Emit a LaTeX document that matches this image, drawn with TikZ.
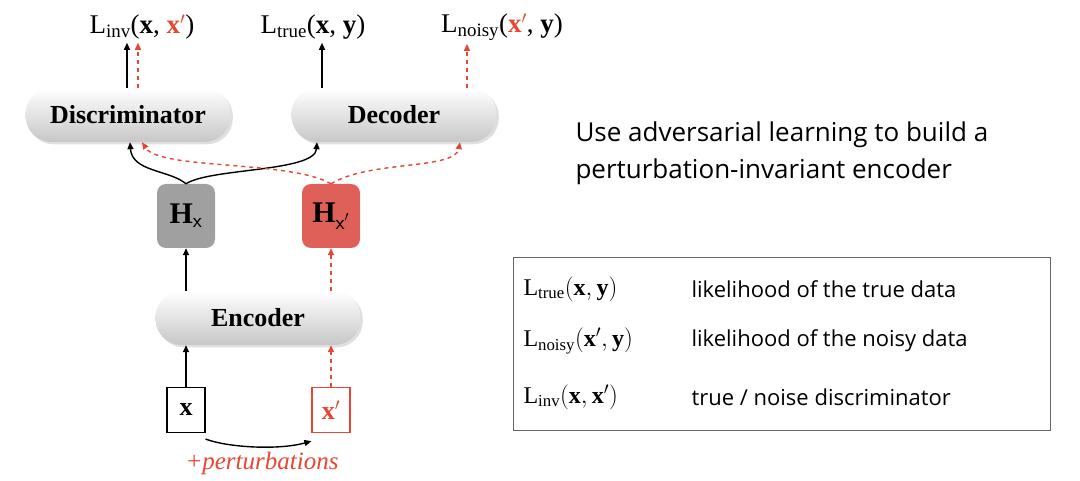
\documentclass[tikz,border=0pt]{standalone}
\usepackage{fontspec}
\setmainfont{Liberation Serif}
\newfontfamily\descfont{Open Sans}
\usetikzlibrary{arrows.meta,shadows}
\definecolor{noisered}{RGB}{230,70,50}
\definecolor{hxgray}{RGB}{160,160,160}
\definecolor{hxred}{RGB}{222,96,88}
\tikzset{
  pill/.style={rounded corners=26pt, minimum width=205pt, minimum height=54pt,
    top color=white, bottom color=black!22, drop shadow={opacity=.25},
    font=\fontsize{26}{26}\selectfont\bfseries},
  hbox/.style={rounded corners=9pt, minimum width=58pt, minimum height=64pt,
    font=\fontsize{30}{30}\selectfont\bfseries},
  inbox/.style={draw, line width=1.2pt, minimum width=38pt, minimum height=45pt,
    font=\fontsize{26}{26}\selectfont\bfseries},
  clean/.style={-{Triangle[length=7pt,width=6pt]}, line width=1.4pt},
  noisy/.style={-{Triangle[length=7pt,width=6pt]}, line width=1.4pt, noisered, dash pattern=on 4pt off 4pt},
  loss/.style={font=\fontsize{27}{27}\selectfont},
  legend/.style={anchor=west, font=\fontsize{24}{24}\selectfont},
}
\begin{document}
\begin{tikzpicture}[x=1pt, y=-1pt]
\useasboundingbox (0,0) rectangle (1080,481);

% blocks
\node[pill] (disc) at (128,115) {Discriminator};
\node[pill] (dec)  at (394,115) {Decoder};
\node[pill] (enc)  at (258,318) {Encoder};
\node[hbox, fill=hxgray] (hx)  at (186,216) {H\textsubscript{\normalfont\sffamily x}};
\node[hbox, fill=hxred]  (hxp) at (331,216) {H\textsubscript{\normalfont\sffamily x$'$}};
\node[inbox] (x)  at (186,410) {x};
\node[inbox, draw=noisered, text=noisered] (xp) at (331,410) {x$'$};
\node[font=\fontsize{25}{25}\selectfont\itshape, text=noisered] (pert) at (262,463) {+perturbations};

% losses
\node[loss] (linv)   at (142,27) {L\textsubscript{inv}(\textbf{x}, \textcolor{noisered}{\textbf{x$'$}})};
\node[loss] (ltrue)  at (313,27) {L\textsubscript{true}(\textbf{x}, \textbf{y})};
\node[loss] (lnoisy) at (502,27) {L\textsubscript{noisy}(\textcolor{noisered}{\textbf{x$'$}}, \textbf{y})};

% connectors
\draw[clean] (x.north) -- (enc.south -| x.north);
\draw[noisy] (xp.north) -- (enc.south -| xp.north);
\draw[clean] (enc.north -| hx.south) -- (hx.south);
\draw[noisy] (enc.north -| hxp.south) -- (hxp.south);
\draw[clean] ([yshift=-6pt]x.south east) .. controls (230,448) and (280,450) .. ([yshift=-8pt]xp.south west);
\draw[clean] (hx.north) .. controls (170,170) and (132,172) .. ([xshift=2pt]disc.south);
\draw[clean] (hx.north) .. controls (210,168) and (315,172) .. ([xshift=-77pt]dec.south);
\draw[noisy] (hxp.north) .. controls (290,160) and (160,170) .. ([xshift=14pt]disc.south);
\draw[noisy] (hxp.north) .. controls (370,160) and (455,170) .. ([xshift=66pt]dec.south);
\draw[clean] ([xshift=-1pt]disc.north) -- ([xshift=-1pt]disc.north |- linv.south);
\draw[noisy] ([xshift=10pt]disc.north) -- ([xshift=10pt]disc.north |- linv.south);
\draw[clean] ([xshift=-72pt]dec.north) -- ([xshift=-72pt]dec.north |- ltrue.south);
\draw[noisy] ([xshift=73pt]dec.north) -- ([xshift=73pt]dec.north |- lnoisy.south);

% right side
\node[anchor=west, font=\descfont\fontsize{26}{37}\selectfont, align=left] (claim) at (572,153)
  {Use adversarial learning to build a\\perturbation-invariant encoder};
\draw[line width=1pt, black!60] (513,258) rectangle (1050,430);
\node[legend] (l1) at (520,289) {$\mathrm{L_{true}}(\mathbf{x},\mathbf{y})$};
\node[legend] (l2) at (520,341) {$\mathrm{L_{noisy}}(\mathbf{x}',\mathbf{y})$};
\node[legend] (l3) at (520,397) {$\mathrm{L_{inv}}(\mathbf{x},\mathbf{x}')$};
\node[legend, font=\descfont\fontsize{22}{22}\selectfont] (d1) at (688,289) {likelihood of the true data};
\node[legend, font=\descfont\fontsize{22}{22}\selectfont] (d2) at (688,341) {likelihood of the noisy data};
\node[legend, font=\descfont\fontsize{22}{22}\selectfont] (d3) at (688,397) {true / noise discriminator};
\end{tikzpicture}
\end{document}
